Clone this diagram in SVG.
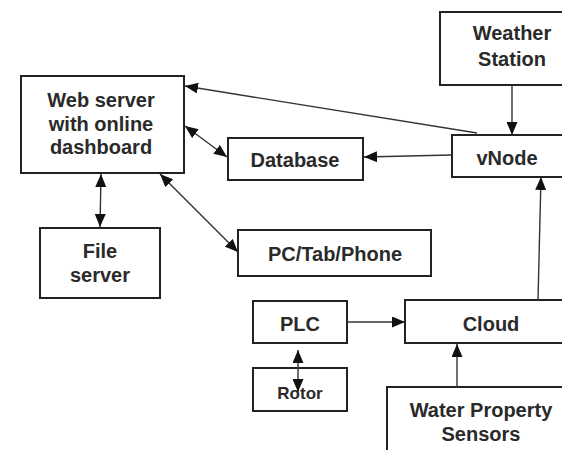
<svg xmlns="http://www.w3.org/2000/svg" width="562" height="450" viewBox="0 0 562 450">
<style>
.box{fill:#fff;stroke:#222;stroke-width:2}
.t{font-family:"Liberation Sans",Arial,sans-serif;font-weight:bold;font-size:20px;fill:#2a2a2a;text-anchor:middle}
.s{font-size:17px}
.c{stroke:#333;stroke-width:1.4;fill:none}
</style>
<defs>
<marker id="ah" viewBox="0 0 13 11" refX="13" refY="5.5" markerWidth="13" markerHeight="11" markerUnits="userSpaceOnUse" orient="auto-start-reverse">
<path d="M0,0 L13,5.5 L0,11 z" fill="#111"/>
</marker>
</defs>
<rect width="562" height="450" fill="#fff"/>
<g id="webserver">
<rect class="box" x="21" y="76" width="163" height="97"/>
<text class="t" x="101" y="107">Web server</text>
<text class="t" x="101" y="131">with online</text>
<text class="t" x="101" y="154">dashboard</text>
</g>
<g id="database">
<rect class="box" x="228" y="138" width="135" height="42"/>
<text class="t" x="295" y="167">Database</text>
</g>
<g id="weather">
<rect class="box" x="440" y="12" width="140" height="73"/>
<text class="t" x="512" y="40">Weather</text>
<text class="t" x="512" y="66">Station</text>
</g>
<g id="vnode">
<rect class="box" x="452" y="135" width="130" height="42"/>
<text class="t" x="507" y="165">vNode</text>
</g>
<g id="fileserver">
<rect class="box" x="40" y="228" width="120" height="70"/>
<text class="t" x="100" y="258">File</text>
<text class="t" x="100" y="282">server</text>
</g>
<g id="pc">
<rect class="box" x="238" y="230" width="193" height="46"/>
<text class="t" x="335" y="261">PC/Tab/Phone</text>
</g>
<g id="plc">
<rect class="box" x="253" y="301" width="94" height="42"/>
<text class="t" x="300" y="331">PLC</text>
</g>
<g id="cloud">
<rect class="box" x="405" y="300" width="175" height="43"/>
<text class="t" x="491" y="331">Cloud</text>
</g>
<g id="rotor">
<rect class="box" x="253" y="368" width="94" height="43"/>
<text class="t s" x="300" y="399">Rotor</text>
</g>
<g id="sensors">
<rect class="box" x="387" y="387" width="193" height="80"/>
<text class="t" x="481" y="417">Water Property</text>
<text class="t" x="481" y="441">Sensors</text>
</g>
<g id="connectors">
<line class="c" x1="477" y1="133" x2="185" y2="86" marker-end="url(#ah)"/>
<line class="c" x1="185" y1="126" x2="227" y2="157" marker-start="url(#ah)" marker-end="url(#ah)"/>
<line class="c" x1="452" y1="155" x2="364" y2="157" marker-end="url(#ah)"/>
<line class="c" x1="512" y1="85" x2="512" y2="135" marker-end="url(#ah)"/>
<line class="c" x1="101" y1="174" x2="100" y2="227" marker-start="url(#ah)" marker-end="url(#ah)"/>
<line class="c" x1="160" y1="174" x2="238" y2="252" marker-start="url(#ah)" marker-end="url(#ah)"/>
<line class="c" x1="347" y1="322" x2="405" y2="322" marker-end="url(#ah)"/>
<line class="c" x1="538" y1="300" x2="541" y2="177" marker-end="url(#ah)"/>
<line class="c" x1="457" y1="387" x2="457" y2="344" marker-end="url(#ah)"/>
<line class="c" x1="298" y1="350" x2="298" y2="392" marker-start="url(#ah)" marker-end="url(#ah)"/>
</g>
</svg>
